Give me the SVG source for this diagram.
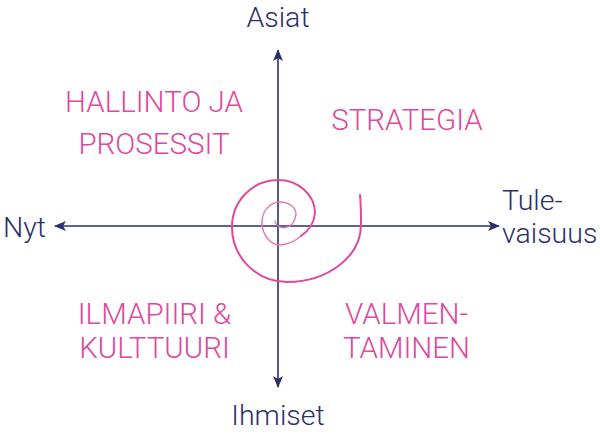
<svg xmlns="http://www.w3.org/2000/svg" width="600" height="436" viewBox="0 0 600 436">
  <style>
    .ax { stroke: #2b2f6e; stroke-width: 1.6; fill: none; }
    .axl { font-family: Roboto, "Liberation Sans", sans-serif; font-weight: 300; font-size: 28.5px; fill: #2b2f6e; }
    .q { font-family: Roboto, "Liberation Sans", sans-serif; font-weight: 300; font-size: 29.5px; fill: #e0489c; text-anchor: middle; }
    .sp { stroke: #e0489c; stroke-width: 2; fill: none; stroke-linecap: round; }
    .spi { stroke: #e676b4; stroke-width: 1.4; fill: none; stroke-linecap: round; }
  </style>
  <defs>
    <marker id="arr" viewBox="0 0 12 10" refX="11" refY="5" markerWidth="12" markerHeight="10" markerUnits="userSpaceOnUse" orient="auto">
      <path d="M0,0 L12,5 L0,10 L3,5 Z" fill="#2b2f6e"/>
    </marker>
  </defs>
  <rect width="600" height="436" fill="#ffffff"/>
  <g id="connectors">
    <line class="ax" x1="278" y1="226" x2="278" y2="50" marker-end="url(#arr)"/>
    <line class="ax" x1="278" y1="226" x2="278" y2="387" marker-end="url(#arr)"/>
    <line class="ax" x1="278" y1="226" x2="55" y2="226" marker-end="url(#arr)"/>
    <line class="ax" x1="278" y1="226" x2="499" y2="226" marker-end="url(#arr)"/>
  </g>
  <g id="spiral">
    <path class="spi" d="M 275 221 C 276 230, 294 232, 296 214 A 16 12 0 0 0 280 202 A 18 20 0 0 0 262 222 A 18 23 0 0 0 280 245 A 35 32 0 0 0 301 236"/>
    <path class="sp" d="M 301 236 A 35 32 0 0 0 315 213 A 37 33 0 0 0 278 180 A 46 47 0 0 0 232 227 A 55 55 0 0 0 287 282 A 74 57 0 0 0 361 225 C 361 215, 361 205, 360 195"/>
  </g>
  <g id="asiat"><text class="axl" x="278" y="27" text-anchor="middle">Asiat</text></g>
  <g id="ihmiset"><text class="axl" x="278" y="425" text-anchor="middle">Ihmiset</text></g>
  <g id="nyt"><text class="axl" x="3" y="237">Nyt</text></g>
  <g id="tulevaisuus"><text class="axl" x="502" y="210">Tule-</text><text class="axl" x="502" y="243">vaisuus</text></g>
  <g id="hallinto"><text class="q" x="154" y="112">HALLINTO JA</text><text class="q" x="154" y="154">PROSESSIT</text></g>
  <g id="strategia"><text class="q" x="407" y="130">STRATEGIA</text></g>
  <g id="ilmapiiri"><text class="q" x="154.5" y="324">ILMAPIIRI &amp;</text><text class="q" x="154.5" y="358">KULTTUURI</text></g>
  <g id="valmentaminen"><text class="q" x="406.5" y="324">VALMEN-</text><text class="q" x="406.5" y="358">TAMINEN</text></g>
</svg>
